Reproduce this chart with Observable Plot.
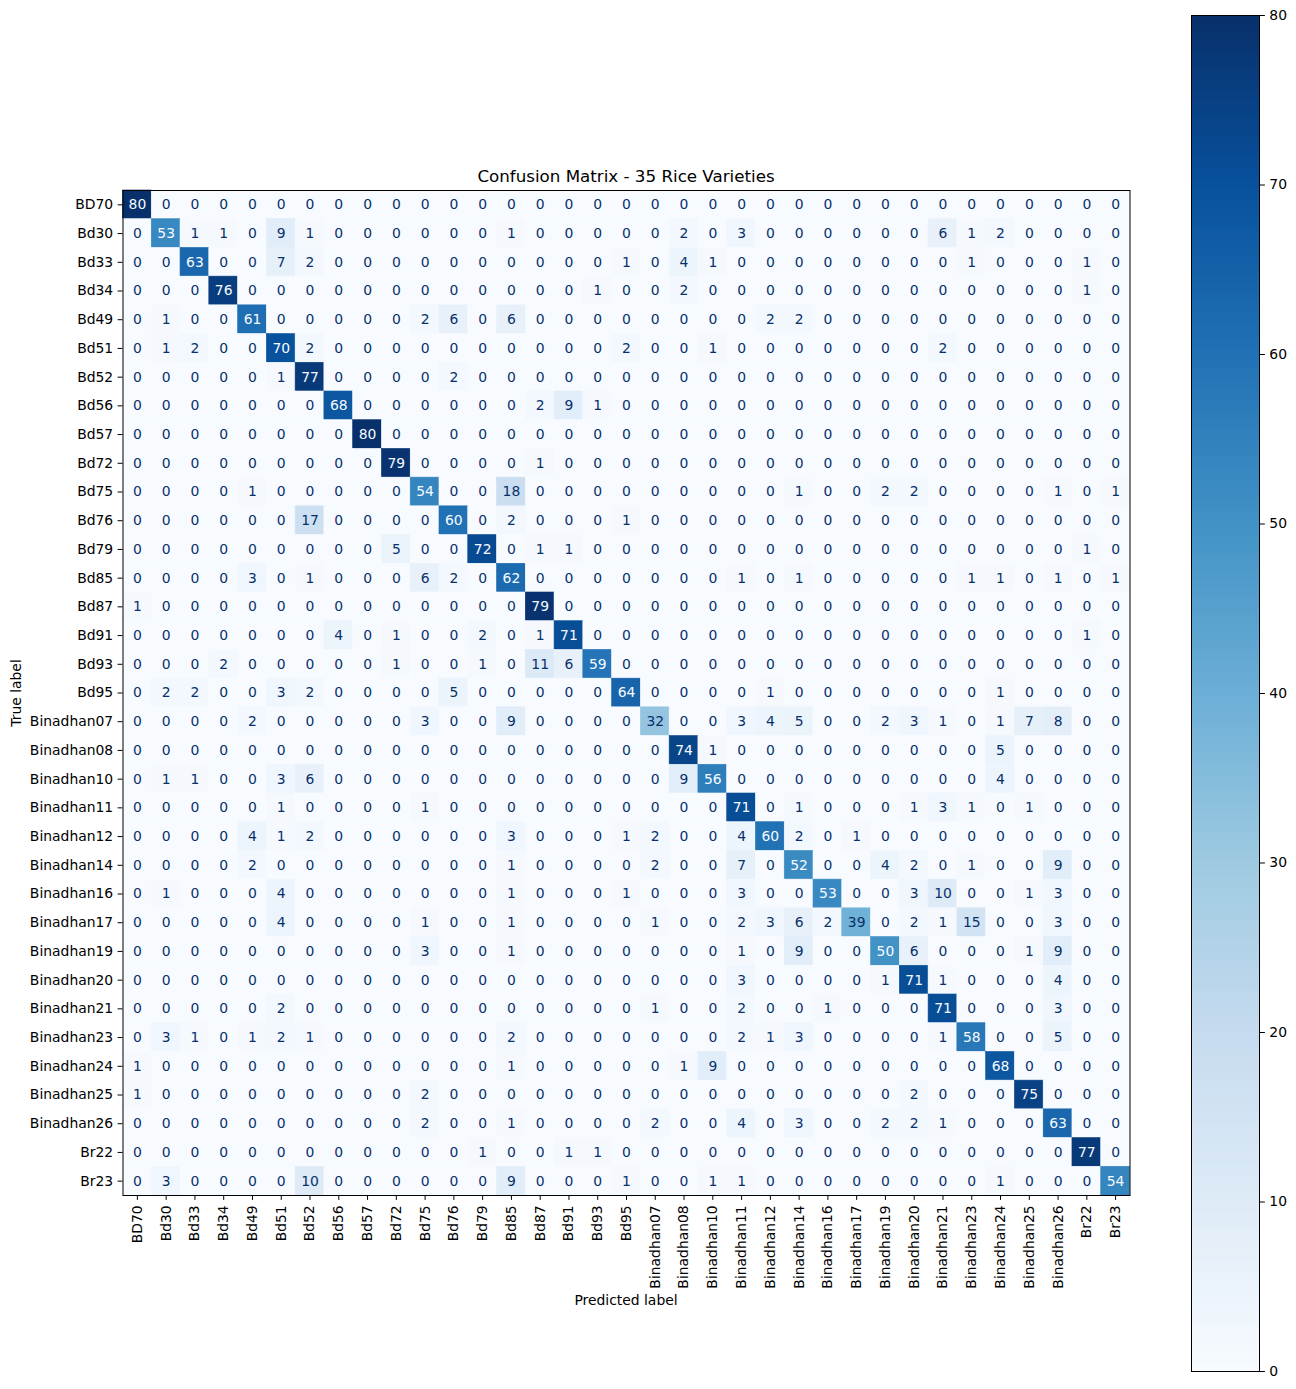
<!DOCTYPE html>
<html><head><meta charset="utf-8">
<script src="https://cdn.jsdelivr.net/npm/d3@7"></script>
<script src="https://cdn.jsdelivr.net/npm/@observablehq/plot@0.6"></script>
<style>
body{margin:0;background:#fff;}
#wrap{position:relative;width:1296px;height:1389px;font-family:"DejaVu Sans",sans-serif;color:#000;}
#wrap svg{position:absolute;top:0;}
.lbl{position:absolute;white-space:nowrap;line-height:1;}
</style></head><body><div id="wrap"></div>
<script>
const labels = ["BD70","Bd30","Bd33","Bd34","Bd49","Bd51","Bd52","Bd56","Bd57","Bd72","Bd75","Bd76","Bd79","Bd85","Bd87","Bd91","Bd93","Bd95","Binadhan07","Binadhan08","Binadhan10","Binadhan11","Binadhan12","Binadhan14","Binadhan16","Binadhan17","Binadhan19","Binadhan20","Binadhan21","Binadhan23","Binadhan24","Binadhan25","Binadhan26","Br22","Br23"];

const matrix = [
 [80,0,0,0,0,0,0,0,0,0,0,0,0,0,0,0,0,0,0,0,0,0,0,0,0,0,0,0,0,0,0,0,0,0,0],
 [0,53,1,1,0,9,1,0,0,0,0,0,0,1,0,0,0,0,0,2,0,3,0,0,0,0,0,0,6,1,2,0,0,0,0],
 [0,0,63,0,0,7,2,0,0,0,0,0,0,0,0,0,0,1,0,4,1,0,0,0,0,0,0,0,0,1,0,0,0,1,0],
 [0,0,0,76,0,0,0,0,0,0,0,0,0,0,0,0,1,0,0,2,0,0,0,0,0,0,0,0,0,0,0,0,0,1,0],
 [0,1,0,0,61,0,0,0,0,0,2,6,0,6,0,0,0,0,0,0,0,0,2,2,0,0,0,0,0,0,0,0,0,0,0],
 [0,1,2,0,0,70,2,0,0,0,0,0,0,0,0,0,0,2,0,0,1,0,0,0,0,0,0,0,2,0,0,0,0,0,0],
 [0,0,0,0,0,1,77,0,0,0,0,2,0,0,0,0,0,0,0,0,0,0,0,0,0,0,0,0,0,0,0,0,0,0,0],
 [0,0,0,0,0,0,0,68,0,0,0,0,0,0,2,9,1,0,0,0,0,0,0,0,0,0,0,0,0,0,0,0,0,0,0],
 [0,0,0,0,0,0,0,0,80,0,0,0,0,0,0,0,0,0,0,0,0,0,0,0,0,0,0,0,0,0,0,0,0,0,0],
 [0,0,0,0,0,0,0,0,0,79,0,0,0,0,1,0,0,0,0,0,0,0,0,0,0,0,0,0,0,0,0,0,0,0,0],
 [0,0,0,0,1,0,0,0,0,0,54,0,0,18,0,0,0,0,0,0,0,0,0,1,0,0,2,2,0,0,0,0,1,0,1],
 [0,0,0,0,0,0,17,0,0,0,0,60,0,2,0,0,0,1,0,0,0,0,0,0,0,0,0,0,0,0,0,0,0,0,0],
 [0,0,0,0,0,0,0,0,0,5,0,0,72,0,1,1,0,0,0,0,0,0,0,0,0,0,0,0,0,0,0,0,0,1,0],
 [0,0,0,0,3,0,1,0,0,0,6,2,0,62,0,0,0,0,0,0,0,1,0,1,0,0,0,0,0,1,1,0,1,0,1],
 [1,0,0,0,0,0,0,0,0,0,0,0,0,0,79,0,0,0,0,0,0,0,0,0,0,0,0,0,0,0,0,0,0,0,0],
 [0,0,0,0,0,0,0,4,0,1,0,0,2,0,1,71,0,0,0,0,0,0,0,0,0,0,0,0,0,0,0,0,0,1,0],
 [0,0,0,2,0,0,0,0,0,1,0,0,1,0,11,6,59,0,0,0,0,0,0,0,0,0,0,0,0,0,0,0,0,0,0],
 [0,2,2,0,0,3,2,0,0,0,0,5,0,0,0,0,0,64,0,0,0,0,1,0,0,0,0,0,0,0,1,0,0,0,0],
 [0,0,0,0,2,0,0,0,0,0,3,0,0,9,0,0,0,0,32,0,0,3,4,5,0,0,2,3,1,0,1,7,8,0,0],
 [0,0,0,0,0,0,0,0,0,0,0,0,0,0,0,0,0,0,0,74,1,0,0,0,0,0,0,0,0,0,5,0,0,0,0],
 [0,1,1,0,0,3,6,0,0,0,0,0,0,0,0,0,0,0,0,9,56,0,0,0,0,0,0,0,0,0,4,0,0,0,0],
 [0,0,0,0,0,1,0,0,0,0,1,0,0,0,0,0,0,0,0,0,0,71,0,1,0,0,0,1,3,1,0,1,0,0,0],
 [0,0,0,0,4,1,2,0,0,0,0,0,0,3,0,0,0,1,2,0,0,4,60,2,0,1,0,0,0,0,0,0,0,0,0],
 [0,0,0,0,2,0,0,0,0,0,0,0,0,1,0,0,0,0,2,0,0,7,0,52,0,0,4,2,0,1,0,0,9,0,0],
 [0,1,0,0,0,4,0,0,0,0,0,0,0,1,0,0,0,1,0,0,0,3,0,0,53,0,0,3,10,0,0,1,3,0,0],
 [0,0,0,0,0,4,0,0,0,0,1,0,0,1,0,0,0,0,1,0,0,2,3,6,2,39,0,2,1,15,0,0,3,0,0],
 [0,0,0,0,0,0,0,0,0,0,3,0,0,1,0,0,0,0,0,0,0,1,0,9,0,0,50,6,0,0,0,1,9,0,0],
 [0,0,0,0,0,0,0,0,0,0,0,0,0,0,0,0,0,0,0,0,0,3,0,0,0,0,1,71,1,0,0,0,4,0,0],
 [0,0,0,0,0,2,0,0,0,0,0,0,0,0,0,0,0,0,1,0,0,2,0,0,1,0,0,0,71,0,0,0,3,0,0],
 [0,3,1,0,1,2,1,0,0,0,0,0,0,2,0,0,0,0,0,0,0,2,1,3,0,0,0,0,1,58,0,0,5,0,0],
 [1,0,0,0,0,0,0,0,0,0,0,0,0,1,0,0,0,0,0,1,9,0,0,0,0,0,0,0,0,0,68,0,0,0,0],
 [1,0,0,0,0,0,0,0,0,0,2,0,0,0,0,0,0,0,0,0,0,0,0,0,0,0,0,2,0,0,0,75,0,0,0],
 [0,0,0,0,0,0,0,0,0,0,2,0,0,1,0,0,0,0,2,0,0,4,0,3,0,0,2,2,1,0,0,0,63,0,0],
 [0,0,0,0,0,0,0,0,0,0,0,0,1,0,0,1,1,0,0,0,0,0,0,0,0,0,0,0,0,0,0,0,0,77,0],
 [0,3,0,0,0,0,10,0,0,0,0,0,0,9,0,0,0,1,0,0,1,1,0,0,0,0,0,0,0,0,1,0,0,0,54]
];

const colorTicks = [0,10,20,30,40,50,60,70,80];
const title = "Confusion Matrix - 35 Rice Varieties";
const xLabel = "Predicted label";
const yLabel = "True label";

// matplotlib "Blues" anchor colours
const blues = ["#f7fbff","#deebf7","#c6dbef","#9ecae1","#6baed6","#4292c6","#2171b5","#08519c","#08306b"];
const vmin = 0, vmax = 80;
const blueStops = blues.map((_, i) => vmin + (vmax - vmin) * i / (blues.length - 1));
const colorScale = {type: "linear", domain: blueStops, range: blues};
const thresh = (vmin + vmax) / 2;

const cells = matrix.flatMap((row, i) => row.map((v, j) => ({actual: labels[i], pred: labels[j], value: v})));

const L = 122.5, R = 1129.5, T = 190, B = 1195;
const FS = 13.9;
const style = {fontFamily: "DejaVu Sans, sans-serif", fontSize: FS + "px", background: "transparent", color: "black", overflow: "visible"};

const main = Plot.plot({
  width: 1296, height: 1389,
  marginLeft: L, marginRight: 1296 - R, marginTop: T, marginBottom: 1389 - B,
  style,
  x: {domain: labels, padding: 0, round: false, label: null},
  y: {domain: labels, padding: 0, round: false, label: null},
  color: colorScale,
  marks: [
    Plot.cell(cells, {x: "pred", y: "actual", fill: "value", stroke: "value", strokeWidth: 0.6}),
    Plot.text(cells.filter(d => d.value >= thresh), {x: "pred", y: "actual", text: d => String(d.value), fill: blues[0], fontSize: FS}),
    Plot.text(cells.filter(d => d.value < thresh), {x: "pred", y: "actual", text: d => String(d.value), fill: blues[8], fontSize: FS}),
    Plot.frame({stroke: "black", strokeWidth: 1}),
    Plot.axisX({anchor: "bottom", tickRotate: -90, tickSize: 4.9, tickPadding: 4.9, label: null, fontSize: FS, stroke: "black"}),
    Plot.axisY({anchor: "left", tickSize: 4.9, tickPadding: 4.9, label: null, fontSize: FS, stroke: "black"})
  ]
});

const CB_L = 1191, CB_R = 1259, CB_T = 15, CB_B = 1371;
const step = 0.2;
const ramp = d3.range(vmin, vmax, step);
const cbar = Plot.plot({
  width: 1296 - CB_L, height: 1389,
  marginLeft: 0, marginRight: 1296 - CB_R, marginTop: CB_T, marginBottom: 1389 - CB_B,
  style,
  y: {domain: [vmin, vmax], label: null},
  color: colorScale,
  marks: [
    Plot.rect(ramp, {y1: d => d, y2: d => Math.min(vmax, d + step * 2), fill: d => d + step / 2}),
    Plot.frame({stroke: "black", strokeWidth: 1}),
    Plot.axisY({anchor: "right", ticks: colorTicks, tickSize: 4.9, tickPadding: 4.9, label: null, fontSize: FS, stroke: "black", tickFormat: d => String(d)})
  ]
});

const wrap = document.getElementById("wrap");
main.style.left = "0px";
cbar.style.left = CB_L + "px";
wrap.appendChild(main);
wrap.appendChild(cbar);

function addLabel(text, x, y, size, rotate) {
  const el = document.createElement("div");
  el.className = "lbl";
  el.textContent = text;
  el.style.left = x + "px";
  el.style.top = y + "px";
  el.style.fontSize = size + "px";
  el.style.transform = "translate(-50%,-50%)" + (rotate ? " rotate(" + rotate + "deg)" : "");
  wrap.appendChild(el);
}
addLabel(title, (L + R) / 2, 176, 16.7);
addLabel(xLabel, (L + R) / 2, 1301, FS);
addLabel(yLabel, 17, (T + B) / 2, FS, -90);
</script>
</body></html>
